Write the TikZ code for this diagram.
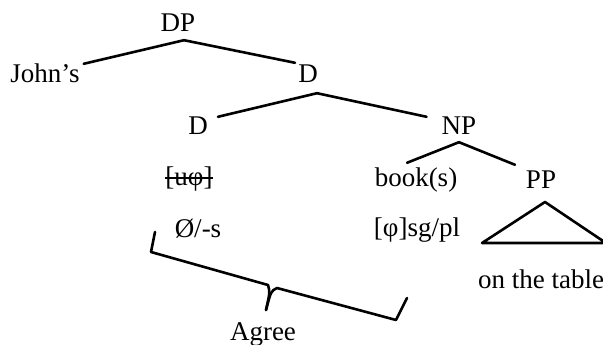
\documentclass[tikz,border=0pt]{standalone}
\usepackage{fontspec}
\setmainfont{Liberation Serif}

\begin{document}
\begin{tikzpicture}[x=1pt,y=-1pt,
  word/.style={anchor=base,inner sep=0pt,text height=18pt,text depth=8pt,
    font=\fontsize{27}{32}\selectfont},
  branch/.style={line width=2.6pt,line cap=round,line join=round}]
\useasboundingbox (0,0) rectangle (603,345);
% top
  \node[word] (dp) at (178,32) {DP};
  \node[word] (johns) at (45,83) {John’s};
  \node[word] (dbar) at (308,83) {D};
  \draw[branch] ([xshift=6pt]dp.south) -- ([xshift=4pt,yshift=1pt]johns.north east);
  \draw[branch] ([xshift=6pt]dp.south) -- ([xshift=-3pt,yshift=2pt]dbar.north west);
% second level
  \node[word] (d) at (198,135) {D};
  \node[word] (np) at (459,135) {NP};
  \draw[branch] ([xshift=9pt,yshift=-2pt]dbar.south) -- ([xshift=10pt]d.north east);
  \draw[branch] ([xshift=9pt,yshift=-2pt]dbar.south) -- ([xshift=-15pt]np.north west);
% third level
  \node[word] (uphi) at (189,185) {[uφ]};
  \draw[line width=2pt] ([yshift=7pt]uphi.base west) -- ([yshift=7pt]uphi.base east);
  \node[word] (books) at (416,186) {book(s)};
  \node[word] (pp) at (541,188) {PP};
  \draw[branch] ([yshift=1pt]np.south) -- ([xshift=-9pt,yshift=5pt]books.north);
  \draw[branch] ([yshift=1pt]np.south) -- ([xshift=-26pt,yshift=5pt]pp.north);
% features
  \node[word] (null) at (198,237) {Ø/-s};
  \node[word] (phi) at (417,236) {[φ]sg/pl};
  \node[word] (table) at (541,288) {on the table};
% triangle
  \coordinate (top) at (545,202);
  \coordinate (left) at (482,243);
  \coordinate (right) at (606,243);
  \draw[branch] (top) -- (left) -- (right) -- cycle;
% brace
  \node[word] (agree) at (263,340) {Agree};
  \coordinate (b1) at (155,232);
  \coordinate (b2) at (151,252);
  \coordinate (c1) at (268,285);
  \coordinate (tip) at (266,310);
  \coordinate (c2) at (277,288);
  \coordinate (b5) at (396,320);
  \coordinate (b6) at (407,298);
  \draw[branch] (b1) -- (b2) -- (c1) .. controls (270,292) .. (tip);
  \draw[branch] (tip) .. controls (271,291) .. (c2) -- (b5) -- (b6);
\end{tikzpicture}
\end{document}
